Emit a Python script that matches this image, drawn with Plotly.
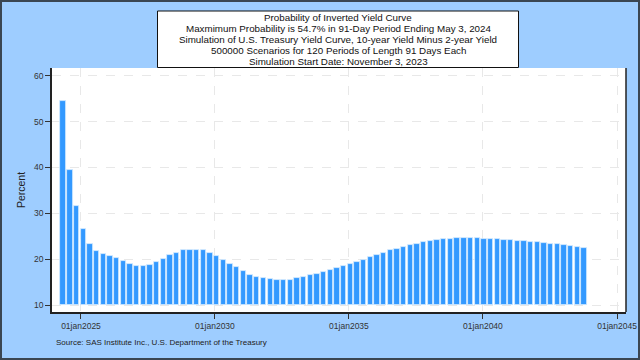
import datetime as dt
import plotly.graph_objects as go

# ---- data ----
start_date = dt.date(2023, 11, 3)
period_days = 91
first_period = 2
probabilities = [
    54.5, 39.5, 31.6, 26.6, 23.4, 21.8, 21.1, 20.7, 20.2, 19.6,
    19.05, 18.6, 18.5, 18.8, 19.3, 20.0, 20.8, 21.4, 21.9, 22.1,
    22.1, 21.9, 21.35, 20.7, 19.9, 19.05, 18.25, 17.4, 16.65, 16.2,
    15.8, 15.6, 15.4, 15.4, 15.5, 15.8, 16.15, 16.45, 16.7, 17.15,
    17.6, 18.1, 18.5, 18.95, 19.3, 19.85, 20.4, 20.85, 21.35, 21.9,
    22.3, 22.6, 23.0, 23.4, 23.7, 23.95, 24.25, 24.3, 24.5, 24.6,
    24.65, 24.65, 24.65, 24.5, 24.5, 24.4, 24.25, 24.1, 24.05, 23.95,
    23.8, 23.8, 23.45, 23.4, 23.2, 23.0, 22.8, 22.6, 22.4,
]
baseline = 10
y_ticks = [10, 20, 30, 40, 50, 60]
x_tick_dates = ["2025-01-01", "2030-01-01", "2035-01-01", "2040-01-01", "2045-01-01"]
x_tick_labels = ["01jan2025", "01jan2030", "01jan2035", "01jan2040", "01jan2045"]
title_lines = [
    "Probability of Inverted Yield Curve",
    "Maxmimum Probability is 54.7% in 91-Day Period Ending May 3, 2024",
    "Simulation of U.S. Treasury Yield Curve, 10-year Yield Minus 2-year Yield",
    "500000 Scenarios for 120 Periods of Length 91 Days Each",
    "Simulation Start Date: November 3, 2023",
]
source_text = "Source: SAS Institute Inc., U.S. Department of the Treasury"

period_end = [start_date + dt.timedelta(days=period_days * (first_period + i))
              for i in range(len(probabilities))]

# ---- layout geometry (pixels) ----
W, H = 640, 360
ML, MR, MT, MB = 52, 14, 68, 48
PW, PH = W - ML - MR, H - MT - MB

def px_x(px):
    return (px - ML) / PW

def px_y(py):
    return (H - MB - py) / PH

FONT = "Liberation Sans, Arial, sans-serif"
BAR = "#3399ff"
BG = "#9ecdff"

fig = go.Figure()
fig.add_trace(go.Bar(
    x=period_end,
    y=[v - baseline for v in probabilities],
    base=baseline,
    width=period_days * 0.80 * 86400000,
    marker=dict(color=BAR, line=dict(color="#d6ebff", width=0.8)),
    hoverinfo="skip",
))

fig.update_layout(
    width=W, height=H,
    margin=dict(l=ML, r=MR, t=MT, b=MB, autoexpand=False),
    paper_bgcolor=BG,
    plot_bgcolor="white",
    showlegend=False,
    bargap=0,
    font=dict(family=FONT, color="#222"),
)

fig.update_xaxes(
    type="date", automargin=False,
    range=["2023-12-03", "2045-05-03"],
    tickmode="array", tickvals=x_tick_dates, ticktext=x_tick_labels,
    ticks="outside", ticklen=5, tickcolor="#333", tickwidth=1,
    tickfont=dict(size=8.5, color="#333"),
    showline=True, linecolor="#222", linewidth=1.5, mirror=False,
    showgrid=True, gridcolor="#e8e8e8", griddash="dash", gridwidth=1,
    zeroline=False,
)
fig.update_yaxes(
    automargin=False,
    range=[8.48, 61.67],
    tickmode="array", tickvals=y_ticks,
    ticks="outside", ticklen=5, tickcolor="#333", tickwidth=1,
    tickfont=dict(size=8.5, color="#333"),
    showline=True, linecolor="#222", linewidth=1.5,
    showgrid=True, gridcolor="#e8e8e8", griddash="dash", gridwidth=1,
    zeroline=False,
    title=dict(text="Percent", font=dict(size=10.5, color="#222"), standoff=6),
)

shapes = [
    # right frame of plot
    dict(type="line", xref="paper", yref="paper", x0=1, x1=1, y0=0, y1=1,
         line=dict(color="#222", width=1.5)),
    # outer image border
    dict(type="rect", xref="paper", yref="paper",
         x0=px_x(1), x1=px_x(W - 1), y0=px_y(H - 1), y1=px_y(1),
         line=dict(color="#3a4652", width=2), layer="above"),
    # title box
    dict(type="rect", xref="paper", yref="paper",
         x0=px_x(157.5), x1=px_x(518.5), y0=px_y(67.5), y1=px_y(11),
         line=dict(color="#111", width=1), fillcolor="white", layer="above"),
]
fig.update_layout(shapes=shapes)

line_centers = [17.25, 28.25, 39.25, 50.25, 61.25]
for txt, cy in zip(title_lines, line_centers):
    fig.add_annotation(
        text=txt, xref="paper", yref="paper",
        x=px_x(338), y=px_y(cy), xanchor="center", yanchor="middle",
        showarrow=False, borderpad=0,
        font=dict(size=9.8, color="#111", family=FONT),
    )

fig.add_annotation(
    text=source_text, xref="paper", yref="paper",
    x=px_x(54), y=px_y(342), xanchor="left", yanchor="middle",
    showarrow=False, font=dict(size=8, color="#222", family=FONT),
)

fig.write_html(
    "out.html",
    config={"displayModeBar": False},
    post_script="document.body.style.margin='0';document.body.style.overflow='hidden';",
)
